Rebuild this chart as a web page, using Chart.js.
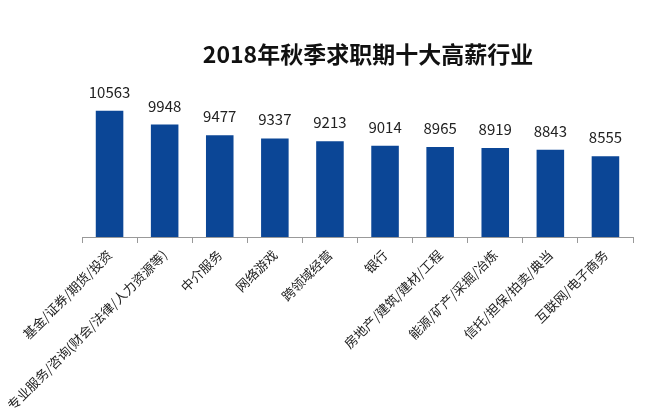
<!DOCTYPE html>
<html>
<head>
<meta charset="utf-8">
<script src="https://cdn.jsdelivr.net/npm/chart.js@4"></script>
<style>
  html, body { margin: 0; padding: 0; background: #fff; }
  #wrap { width: 664px; height: 415px; position: relative; }
</style>
</head>
<body>
<div id="wrap"><canvas id="chart"></canvas></div>
<script>
const titleText = "2018年秋季求职期十大高薪行业"
const categories = [
  "基金/证券/期货/投资",
  "专业服务/咨询(财会/法律/人力资源等)",
  "中介服务",
  "网络游戏",
  "跨领域经营",
  "银行",
  "房地产/建筑/建材/工程",
  "能源/矿产/采掘/冶炼",
  "信托/担保/拍卖/典当",
  "互联网/电子商务"
]
const salaries = [10563, 9948, 9477, 9337, 9213, 9014, 8965, 8919, 8843, 8555]
const yMin = 5000
const yMax = 12000

const cjkFont = "'Noto Sans CJK SC', 'Noto Sans', sans-serif"

// value labels above each bar + title drawn at its own spot
const extras = {
  id: "extras",
  afterDatasetsDraw(chart) {
    const ctx = chart.ctx
    const meta = chart.getDatasetMeta(0)
    ctx.save()
    ctx.fillStyle = "#222"
    ctx.font = "15px " + cjkFont
    ctx.textAlign = "center"
    ctx.textBaseline = "alphabetic"
    meta.data.forEach((bar, i) => {
      ctx.fillText(String(salaries[i]), bar.x, bar.y - 13)
    })
    ctx.font = "bold 23px " + cjkFont
    ctx.fillStyle = "#111"
    ctx.fillText(titleText, 368, 63)
    ctx.restore()
  }
}

new Chart(document.getElementById("chart").getContext("2d"), {
  type: "bar",
  data: {
    labels: categories,
    datasets: [{
      data: salaries,
      backgroundColor: "#0b4696",
      barPercentage: 0.5,
      categoryPercentage: 1.0
    }]
  },
  options: {
    responsive: true,
    maintainAspectRatio: false,
    animation: false,
    layout: { padding: { left: 82, top: 78, right: 31, bottom: 0 } },
    plugins: {
      legend: { display: false },
      title: { display: false },
      tooltip: { enabled: false }
    },
    scales: {
      y: {
        display: false,
        min: yMin,
        max: yMax
      },
      x: {
        afterFit: (scale) => { scale.height = 178 },
        border: { display: true, color: "#999", width: 1 },
        grid: {
          offset: true,
          drawOnChartArea: false,
          drawTicks: true,
          tickLength: 6,
          color: "#999"
        },
        ticks: {
          autoSkip: false,
          minRotation: 45,
          maxRotation: 45,
          padding: 4,
          color: "#222",
          font: { family: cjkFont, size: 13 }
        }
      }
    }
  },
  plugins: [extras]
})
</script>
</body>
</html>
